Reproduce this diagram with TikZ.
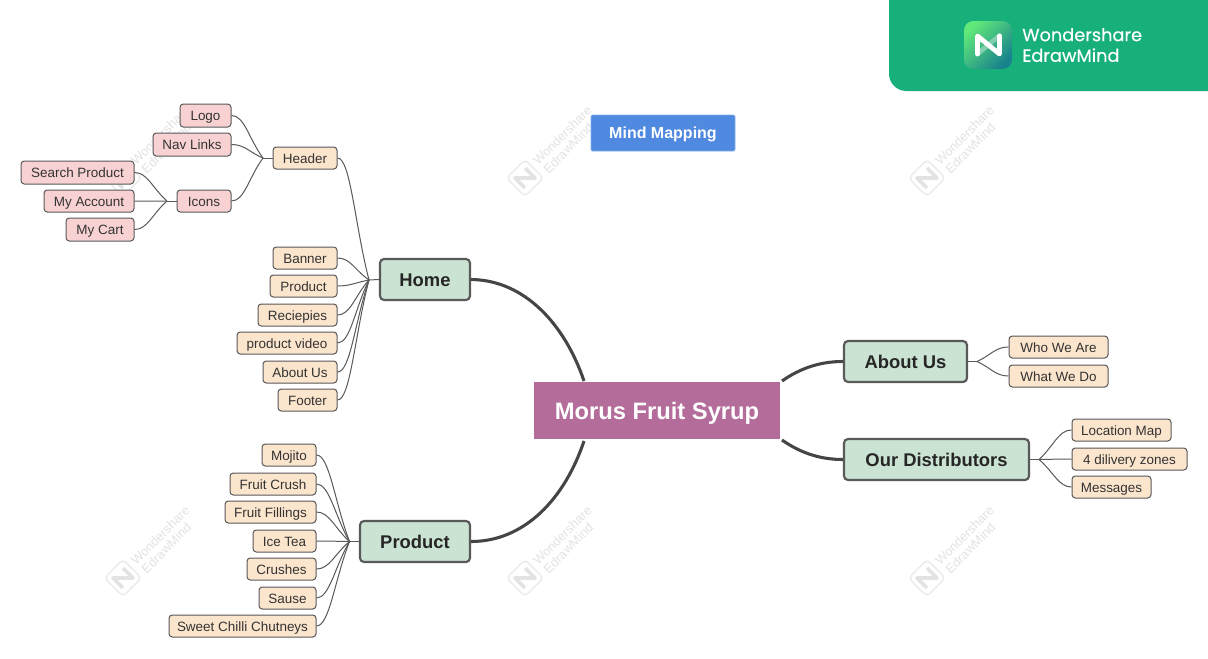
\documentclass[tikz,border=0pt]{standalone}
\usepackage{fontspec}
\setmainfont{Liberation Sans}
\newfontfamily\brandfont[FakeBold=0.25]{Poppins}
\usetikzlibrary{calc}
\definecolor{leafpeach}{HTML}{FCE5CD}
\definecolor{leafpink}{HTML}{F8D2D2}
\definecolor{maingreen}{HTML}{CBE3D3}
\definecolor{rootpurple}{HTML}{B46D9A}
\definecolor{noteblue}{HTML}{5089E0}
\definecolor{brandgreen}{HTML}{17B07B}
\definecolor{linegrey}{HTML}{595959}
\definecolor{thickgrey}{HTML}{454545}
\definecolor{wmtext}{HTML}{E3E3E3}
\definecolor{logolight}{HTML}{60E87A}
\definecolor{logodark}{HTML}{18828C}
\tikzset{
  boxbase/.style={rectangle,inner sep=0pt,text height=9.5pt,text depth=2pt,align=center},
  peachbox/.style={boxbase,draw=linegrey,line width=0.75pt,rounded corners=2.5pt,fill=leafpeach,text=black!80,font=\fontsize{10.1pt}{12pt}\selectfont},
  pinkbox/.style={peachbox,fill=leafpink},
  mainbox/.style={boxbase,draw=linegrey,line width=1.6pt,rounded corners=3pt,fill=maingreen,text=black!85,text height=13pt,font=\bfseries\fontsize{13.8pt}{16pt}\selectfont},
  rootbox/.style={boxbase,fill=rootpurple,text=white,text height=17.5pt,text depth=3.5pt,font=\bfseries\fontsize{17.8pt}{20pt}\selectfont},
  notebox/.style={boxbase,fill=noteblue,draw=noteblue!70!white,line width=0.5pt,rounded corners=1pt,text=white,text height=10.5pt,text depth=2.5pt,font=\bfseries\fontsize{12pt}{14pt}\selectfont},
  twig/.style={draw=linegrey,line width=0.75pt},
  bough/.style={draw=thickgrey,line width=2.3pt},
  wmark/.pic={
    \begin{scope}[rotate=45]
      \draw[wmtext!70!white,line width=1.1pt,rounded corners=3pt] (-13,-13) rectangle (13,13);
      \draw[wmtext,line width=2.8pt,line join=round] (-7,7)--(-7,-7)--(7,7)--(7,-7);
    \end{scope}
    \node[rotate=45,text=wmtext,align=left,inner sep=0pt,font=\fontsize{9.6pt}{10.5pt}\selectfont] at (42,-38) {Wondershare\\[-0.5pt]\hspace*{1pt}EdrawMind};
  }
}
\newcommand{\boxat}[6]{% style, name, x1, x2, y1, y2 + text
  \node[#1,minimum width={(#4-#3)*0.75pt},minimum height={(#6-#5)*0.75pt}] (#2) at ({(#3+#4)/2},{(#5+#6)/2})}
\newcommand{\twigsleft}[3]{% fork, bend, children
  \foreach \kid in {#3}{\draw[twig] (\kid.east) .. controls +(#2,0) and ($(\kid.east)!0.55!(#1)$) .. (#1);}}
\newcommand{\twigsright}[3]{%
  \foreach \kid in {#3}{\draw[twig] (\kid.west) .. controls +(-#2,0) and ($(\kid.west)!0.55!(#1)$) .. (#1);}}
\begin{document}
\begin{tikzpicture}[x=0.75pt,y=-0.75pt]
\useasboundingbox (0,0) rectangle (1208,658);
\fill[white] (0,0) rectangle (1208,658);
% watermarks
\pic at (525,178) {wmark};
\pic at (927,178) {wmark};
\pic at (123,178) {wmark};
\pic at (525,578) {wmark};
\pic at (927,578) {wmark};
\pic at (123,578) {wmark};
% brand banner
\fill[brandgreen,rounded corners=13pt] (889,-30) rectangle (1240,91);
\shade[rounded corners=7pt,top color=logolight,bottom color=logodark,shading angle=45] (964,21) rectangle (1012,69);
\draw[white,opacity=0.35,line width=3.6pt,line cap=round] (999.5,35.5)--(977.5,54);
\draw[white,line width=3.6pt,line join=round,line cap=round] (977.5,54)--(977.5,36)--(999.5,54)--(999.5,36);
\node[anchor=west,inner sep=0pt,text=white,align=left,font=\brandfont\fontsize{13.3pt}{15.5pt}\selectfont] (brand) at (1022,45) {Wondershare\\EdrawMind};
% root and note
\boxat{rootbox}{root}{534}{780}{382}{439} {Morus Fruit Syrup};
\boxat{notebox}{note}{591}{735}{115}{151} {Mind Mapping};
% main topics
\boxat{mainbox}{home}{380}{470}{259}{300} {Home};
\boxat{mainbox}{product}{360}{470}{521}{562} {Product};
\boxat{mainbox}{about}{844}{967}{341}{382} {About Us};
\boxat{mainbox}{distrib}{844}{1029}{439}{480} {Our Distributors};
% header branch
\boxat{peachbox}{header}{273}{337}{147}{169} {Header};
\boxat{pinkbox}{logo}{180}{231}{104}{127} {Logo};
\boxat{pinkbox}{navlinks}{153}{231}{133}{156} {Nav Links};
\boxat{pinkbox}{icons}{177}{231}{190}{212} {Icons};
\boxat{pinkbox}{search}{21}{134}{161}{184} {Search Product};
\boxat{pinkbox}{account}{44}{134}{190}{212} {My Account};
\boxat{pinkbox}{cart}{66}{134}{218}{241} {My Cart};
% home children
\boxat{peachbox}{banner}{273}{337}{247}{269} {Banner};
\boxat{peachbox}{homeproduct}{270}{337}{275}{297} {Product};
\boxat{peachbox}{reciepies}{258}{337}{304}{326} {Reciepies};
\boxat{peachbox}{video}{237}{337}{332}{354} {product video};
\boxat{peachbox}{homeabout}{263}{337}{361}{383} {About Us};
\boxat{peachbox}{footer}{278}{337}{389}{411} {Footer};
% product children
\boxat{peachbox}{mojito}{262}{316}{444}{466} {Mojito};
\boxat{peachbox}{crush}{230}{316}{473}{495} {Fruit Crush};
\boxat{peachbox}{fillings}{225}{316}{501}{523} {Fruit Fillings};
\boxat{peachbox}{icetea}{253}{316}{530}{552} {Ice Tea};
\boxat{peachbox}{crushes}{247}{316}{558}{580} {Crushes};
\boxat{peachbox}{sause}{259}{316}{587}{609} {Sause};
\boxat{peachbox}{chutneys}{169}{316}{615}{637} {Sweet Chilli Chutneys};
% right children
\boxat{peachbox}{who}{1009}{1108}{336}{358} {Who We Are};
\boxat{peachbox}{what}{1009}{1108}{365}{387} {What We Do};
\boxat{peachbox}{location}{1072}{1171}{419}{441} {Location Map};
\boxat{peachbox}{zones}{1072}{1187}{448}{470} {4 dilivery zones};
\boxat{peachbox}{messages}{1072}{1151}{476}{498} {Messages};
% forks and free ends
\coordinate (forkheader) at (263,158);
\coordinate (forkicons) at (167,201);
\coordinate (forkhome) at (369,280);
\coordinate (forkproduct) at (349.5,541.5);
\coordinate (forkabout) at (977,361.5);
\coordinate (forkdistrib) at (1039,459.5);
\coordinate (rootnw) at (584,381);
\coordinate (rootsw) at (584,441);
\coordinate (rootne) at (782,381);
\coordinate (rootse) at (782,440);
% boughs
\draw[bough] (rootnw) .. controls (565,325) and (525,280) .. (home.east);
\draw[bough] (rootsw) .. controls (565,498) and (525,541.5) .. (product.east);
\draw[bough] (rootne) .. controls (802,367) and (822,361.5) .. (about.west);
\draw[bough] (rootse) .. controls (802,454) and (822,459.5) .. (distrib.west);
% twigs
\draw[twig] (header.west) -- (forkheader);
\draw[twig] (icons.west) -- (forkicons);
\draw[twig] (home.west) -- (forkhome);
\draw[twig] (product.west) -- (forkproduct);
\draw[twig] (about.east) -- (forkabout);
\draw[twig] (distrib.east) -- (forkdistrib);
\twigsleft{forkheader}{13}{logo,navlinks,icons}
\twigsleft{forkicons}{13}{search,account,cart}
\twigsleft{forkhome}{13}{header,banner,homeproduct,reciepies,video,homeabout,footer}
\twigsleft{forkproduct}{13}{mojito,crush,fillings,icetea,crushes,sause,chutneys}
\twigsright{forkabout}{13}{who,what}
\twigsright{forkdistrib}{13}{location,zones,messages}
\end{tikzpicture}
\end{document}
